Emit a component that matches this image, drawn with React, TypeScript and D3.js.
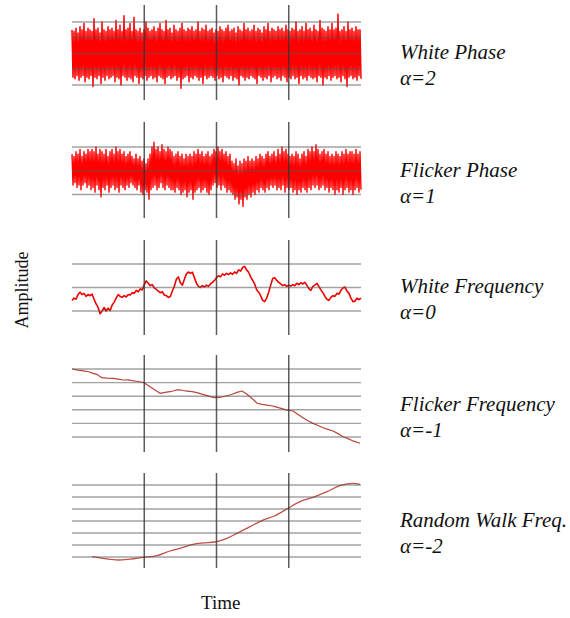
import React from 'react';
import * as d3 from 'd3';

// time axis: four equal divisions, dark lines at 1, 2, 3
const timeTicks = [1, 2, 3];

// white phase noise, upper / lower peaks every ~2px
const whitePhaseHi = [
  1.5, 1.4, 1.6, 1.3, 1.7, 1.5, 1.9, 1.4, 1.6, 1.5,
  1.4, 2.2, 1.5, 1.6, 1.3, 2.0, 1.5, 1.4, 1.7, 1.5,
  1.6, 1.4, 2.1, 1.5, 1.8, 1.4, 2.4, 1.5, 1.6, 1.9,
  1.4, 2.3, 1.5, 1.4, 1.6, 1.3, 1.5, 2.0, 1.6, 1.4,
  1.5, 1.7, 1.4, 1.6, 1.9, 1.5, 1.4, 2.1, 1.5, 1.6,
  1.3, 1.8, 1.5, 1.4, 1.6, 1.9, 1.5, 1.4, 1.6, 1.5,
  1.7, 1.4, 1.5, 2.0, 1.4, 1.6, 1.5, 1.8, 1.4, 1.5,
  1.6, 1.3, 1.5, 1.4, 1.7, 1.5, 1.4, 1.6, 1.8, 1.4,
  1.5, 1.6, 1.3, 1.7, 1.5, 1.4, 1.9, 1.5, 1.6, 1.4,
  1.5, 1.8, 1.4, 1.6, 1.5, 1.3, 1.7, 1.5, 1.9, 1.4,
  1.6, 1.5, 1.4, 1.7, 1.5, 1.6, 1.4, 1.8, 1.5, 1.4,
  1.6, 1.5, 2.0, 1.4, 1.5, 1.7, 1.4, 1.9, 1.5, 1.6,
  1.4, 1.8, 1.5, 1.4, 2.1, 1.6, 1.5, 1.4, 1.7, 1.5,
  1.9, 1.5, 1.6, 2.5, 1.4, 1.5, 1.7, 1.4, 2.0, 1.5,
  1.6, 1.4, 1.7, 1.5, 1.5,
];
const whitePhaseLo = [
  -1.5, -1.6, -1.4, -1.7, -1.5, -1.4, -1.8, -1.5, -1.6, -1.4,
  -2.1, -1.5, -1.6, -1.4, -1.9, -1.5, -1.7, -1.4, -1.6, -1.5,
  -1.4, -1.8, -1.5, -1.6, -2.0, -1.4, -1.5, -1.7, -1.5, -1.6,
  -1.8, -1.4, -1.5, -1.9, -1.5, -1.6, -1.4, -1.7, -1.5, -1.4,
  -1.6, -1.5, -1.8, -1.4, -1.5, -1.6, -1.9, -1.5, -1.4, -1.6,
  -1.5, -1.4, -1.7, -1.5, -2.2, -1.6, -1.5, -1.4, -1.8, -1.5,
  -1.6, -1.4, -1.5, -1.7, -1.5, -1.9, -1.4, -1.6, -1.5, -1.4,
  -1.5, -1.7, -1.4, -1.6, -1.5, -1.8, -1.4, -1.5, -1.6, -1.4,
  -1.7, -1.5, -1.6, -2.0, -1.4, -1.5, -1.7, -1.5, -1.6, -1.4,
  -1.5, -1.6, -1.9, -1.4, -1.5, -1.7, -1.5, -1.6, -1.4, -1.8,
  -1.5, -1.4, -1.6, -1.5, -1.7, -1.4, -1.5, -1.8, -1.5, -1.6,
  -1.4, -1.6, -1.5, -1.9, -1.4, -1.6, -1.5, -1.7, -1.4, -1.5,
  -1.6, -1.5, -1.8, -1.4, -1.5, -2.0, -1.5, -1.6, -1.4, -1.7,
  -1.5, -1.4, -1.6, -1.5, -1.8, -1.4, -1.6, -2.1, -1.5, -1.4,
  -1.6, -1.5, -1.7, -1.4, -1.6,
];

// flicker phase noise, upper / lower peaks every ~2px
const flickerPhaseHi = [
  0.7, 0.6, 0.8, 0.7, 0.9, 0.6, 0.8, 0.7, 0.9, 0.8,
  0.9, 0.8, 1.0, 0.7, 0.9, 0.8, 0.7, 0.9, 0.6, 0.8,
  0.9, 0.7, 1.0, 0.8, 0.9, 0.7, 0.8, 0.6, 0.7, 0.8,
  0.6, 0.5, 0.7, 0.5, 0.6, 0.4, 0.5, 0.3, 0.5, 0.7,
  1.0, 1.2, 0.9, 1.0, 0.8, 1.1, 0.9, 0.8, 1.0, 0.9,
  0.8, 0.6, 0.7, 0.8, 0.6, 0.7, 0.5, 0.7, 0.6, 0.7,
  0.6, 0.8, 0.7, 0.9, 0.7, 0.8, 0.6, 0.7, 0.8, 0.6,
  0.7, 0.9, 0.8, 1.0, 0.8, 0.9, 0.7, 0.8, 0.6, 0.7,
  0.4, 0.3, 0.5, 0.2, 0.4, 0.3, 0.5, 0.4, 0.6, 0.4,
  0.5, 0.4, 0.6, 0.5, 0.7, 0.6, 0.5, 0.7, 0.8, 0.6,
  0.7, 0.8, 0.6, 0.9, 0.7, 1.0, 0.8, 0.9, 0.7, 0.6,
  0.7, 0.6, 0.8, 0.7, 0.5, 0.7, 0.8, 0.6, 0.9, 0.8,
  1.0, 0.8, 1.1, 0.9, 0.7, 0.8, 0.9, 0.7, 0.8, 0.6,
  0.7, 0.6, 0.8, 0.7, 0.6, 0.8, 0.7, 0.9, 0.7, 0.8,
  0.8, 0.7, 0.9, 0.7, 0.8,
];
const flickerPhaseLo = [
  -0.6, -0.5, -0.7, -0.6, -0.8, -0.6, -0.5, -0.7, -0.6, -0.8,
  -0.7, -0.9, -0.6, -0.8, -1.1, -0.7, -0.8, -0.6, -0.9, -0.7,
  -0.6, -0.8, -0.7, -0.9, -0.6, -0.7, -0.8, -0.6, -0.7, -0.5,
  -0.6, -0.7, -0.8, -0.6, -0.9, -1.0, -0.8, -0.9, -1.2, -0.8,
  -0.7, -0.6, -0.8, -0.7, -0.5, -0.7, -0.8, -0.6, -0.7, -0.8,
  -0.8, -0.9, -0.7, -0.8, -1.0, -0.9, -0.8, -1.1, -0.9, -0.8,
  -1.2, -0.9, -0.8, -0.7, -0.9, -0.8, -0.7, -0.9, -1.0, -0.8,
  -0.6, -0.5, -0.7, -0.6, -0.8, -0.6, -0.7, -0.9, -0.8, -0.9,
  -1.0, -1.2, -1.1, -1.4, -1.2, -1.5, -1.1, -1.2, -1.0, -1.1,
  -0.9, -1.0, -0.8, -0.9, -0.7, -0.8, -0.9, -0.7, -0.8, -0.6,
  -0.7, -0.6, -0.8, -0.7, -0.8, -0.6, -0.9, -0.7, -0.8, -0.7,
  -0.9, -0.8, -1.0, -0.8, -0.9, -0.7, -0.8, -0.9, -0.7, -0.8,
  -0.6, -0.7, -0.6, -0.8, -0.7, -0.6, -0.8, -0.7, -0.9, -0.7,
  -0.8, -1.0, -0.8, -0.9, -0.7, -1.0, -0.8, -0.7, -0.9, -0.8,
  -1.0, -0.8, -0.7, -0.9, -0.8,
];

// white frequency noise, one value every ~2px
const whiteFreq = [
  -0.55, -0.45, -0.5, -0.3, -0.2, -0.3, -0.25, -0.38, -0.3, -0.35,
  -0.28, -0.5, -0.7, -0.85, -1.12, -1.0, -0.85, -1.0, -0.88, -0.98,
  -0.75, -0.62, -0.45, -0.3, -0.38, -0.42, -0.35, -0.4, -0.3, -0.32,
  -0.22, -0.25, -0.12, -0.18, -0.06, -0.1, 0.12, 0.28, 0.18, 0.08,
  0.12, -0.02, -0.08, -0.15, -0.22, -0.18, -0.32, -0.35, -0.42, -0.38,
  -0.15, 0.05, 0.35, 0.45, 0.2, 0.1, 0.35, 0.58, 0.66, 0.6,
  0.65, 0.42, 0.18, 0.05, 0.0, 0.08, 0.02, 0.1, 0.05, 0.15,
  0.22, 0.3, 0.42, 0.5, 0.45, 0.58, 0.52, 0.6, 0.55, 0.62,
  0.56, 0.66, 0.6, 0.75, 0.7, 0.85, 0.9, 0.75, 0.65, 0.45,
  0.3, 0.15, -0.1, -0.2, -0.35, -0.55, -0.6, -0.45, -0.2, 0.1,
  0.38, 0.42, 0.3, 0.22, 0.15, 0.08, 0.12, 0.05, 0.1, 0.06,
  0.12, 0.08, 0.18, 0.12, 0.2, 0.15, 0.22, 0.1, -0.05, -0.12,
  0.05, 0.1, 0.18, 0.05, -0.1, -0.22, -0.38, -0.5, -0.55, -0.42,
  -0.35, -0.38, -0.25, -0.28, -0.12, -0.02, 0.02, -0.15, -0.25, -0.45,
  -0.6, -0.58, -0.45, -0.52, -0.45,
];

// flicker frequency (time, value)
const flickerFreqT = [
  0.0, 0.083, 0.18, 0.235, 0.29, 0.346, 0.415, 0.484, 0.567, 0.637,
  0.706, 0.775, 0.83, 0.913, 0.983, 1.024, 1.08, 1.149, 1.218, 1.287,
  1.356, 1.412, 1.467, 1.536, 1.592, 1.661, 1.73, 1.799, 1.869, 1.924,
  1.979, 2.035, 2.09, 2.159, 2.215, 2.284, 2.353, 2.408, 2.464, 2.519,
  2.561, 2.63, 2.699, 2.754, 2.81, 2.893, 2.976, 3.059, 3.128, 3.197,
  3.266, 3.336, 3.405, 3.474, 3.543, 3.612, 3.682, 3.751, 3.82, 3.889,
  3.986,
];
const flickerFreqV = [
  5.0, 4.92, 4.85, 4.8, 4.68, 4.6, 4.36, 4.33, 4.31, 4.25,
  4.19, 4.2, 4.14, 4.08, 4.02, 3.9, 3.7, 3.45, 3.21, 3.28,
  3.33, 3.4, 3.48, 3.42, 3.38, 3.33, 3.26, 3.15, 3.04, 2.95,
  2.89, 2.92, 2.96, 3.05, 3.14, 3.28, 3.38, 3.2, 2.96, 2.7,
  2.48, 2.4, 2.35, 2.3, 2.23, 2.1, 1.98, 1.91, 1.65, 1.42,
  1.2, 1.0, 0.85, 0.68, 0.56, 0.44, 0.25, 0.02, -0.12, -0.29,
  -0.46,
];

// random walk frequency (time, value)
const randomWalkT = [
  0.277, 0.429, 0.637, 0.803, 0.983, 1.176, 1.356, 1.495, 1.675, 1.813,
  1.979, 2.145, 2.284, 2.464, 2.644, 2.81, 2.99, 3.156, 3.363, 3.529,
  3.709, 3.889, 3.986,
];
const randomWalkV = [
  0.03, -0.11, -0.25, -0.17, -0.03, 0.11, 0.5, 0.72, 1.06, 1.17,
  1.25, 1.56, 1.97, 2.53, 3.08, 3.44, 4.06, 4.61, 5.03, 5.44,
  5.94, 6.14, 6.06,
];

const noiseNames = ['White Phase', 'Flicker Phase', 'White Frequency', 'Flicker Frequency', 'Random Walk Freq.'];
const alphaLabels = ['α=2', 'α=1', 'α=0', 'α=-1', 'α=-2'];
const gridLevels = [
  [-2, -1, 0, 1, 2],
  [-1, 0, 1],
  [-1, 0, 1],
  [0, 1, 2, 3, 4, 5],
  [0, 1, 2, 3, 4, 5, 6],
];

type Pt = [number, number];

// interleave upper and lower peaks into one zig-zag trace
function zigzag(hi: number[], lo: number[]): Pt[] {
  const vals = hi.flatMap((h, i) => [h, lo[i]]);
  return vals.map((v, i) => [(i / (vals.length - 1)) * 4, v]);
}

const panels = [
  { top: 5, bottom: 100, domain: [-2, 2], range: [85, 22], data: zigzag(whitePhaseHi, whitePhaseLo), color: '#ff0000', w: 1.5, curve: d3.curveLinear },
  { top: 122, bottom: 218, domain: [-1, 1], range: [194.5, 147], data: zigzag(flickerPhaseHi, flickerPhaseLo), color: '#ff0000', w: 1.4, curve: d3.curveLinear },
  { top: 240, bottom: 335, domain: [-1, 1], range: [311, 264], data: whiteFreq.map((v, i) => [(i / (whiteFreq.length - 1)) * 4, v] as Pt), color: '#ee0000', w: 1.6, curve: d3.curveLinear },
  { top: 355, bottom: 452, domain: [0, 5], range: [437, 369], data: flickerFreqT.map((t, i) => [t, flickerFreqV[i]] as Pt), color: '#b8463c', w: 1.2, curve: d3.curveLinear },
  { top: 473, bottom: 568, domain: [0, 6], range: [557, 485], data: randomWalkT.map((t, i) => [t, randomWalkV[i]] as Pt), color: '#c05048', w: 1.3, curve: d3.curveMonotoneX },
];

const labelY = [59, 177, 293, 411, 527];

export default function App() {
  const x = d3.scaleLinear().domain([0, 4]).range([72, 361]);
  const font = '"Liberation Serif", "Times New Roman", serif';

  return (
    <div style={{ position: 'absolute', left: 0, top: 0 }}>
      <svg width={570} height={618} style={{ display: 'block', background: '#fff' }}>
        {panels.map((p, k) => {
          const y = d3.scaleLinear().domain(p.domain).range(p.range);
          const line = d3.line<Pt>().x((d) => x(d[0])).y((d) => y(d[1])).curve(p.curve);
          return (
            <g key={k}>
              <path d={line(p.data) || ''} fill="none" stroke={p.color} strokeWidth={p.w} strokeLinejoin="round" />
              {gridLevels[k].map((g) => (
                <line key={g} x1={x(0)} x2={x(4)} y1={y(g)} y2={y(g)} stroke="#555" strokeOpacity={0.55} strokeWidth={1.4} />
              ))}
              {timeTicks.map((t) => (
                <line key={t} x1={x(t)} x2={x(t)} y1={p.top} y2={p.bottom} stroke="#333" strokeOpacity={0.8} strokeWidth={1.5} />
              ))}
              <text x={400} y={labelY[k]} fontFamily={font} fontStyle="italic" fontSize={21} fill="#111">{noiseNames[k]}</text>
              <text x={400} y={labelY[k] + 26} fontFamily={font} fontStyle="italic" fontSize={21} fill="#111">{alphaLabels[k]}</text>
            </g>
          );
        })}
        <text transform="translate(28,290) rotate(-90)" textAnchor="middle" fontFamily={font} fontSize={18} fill="#111">Amplitude</text>
        <text x={201} y={609} fontFamily={font} fontSize={19} fill="#111">Time</text>
      </svg>
    </div>
  );
}
